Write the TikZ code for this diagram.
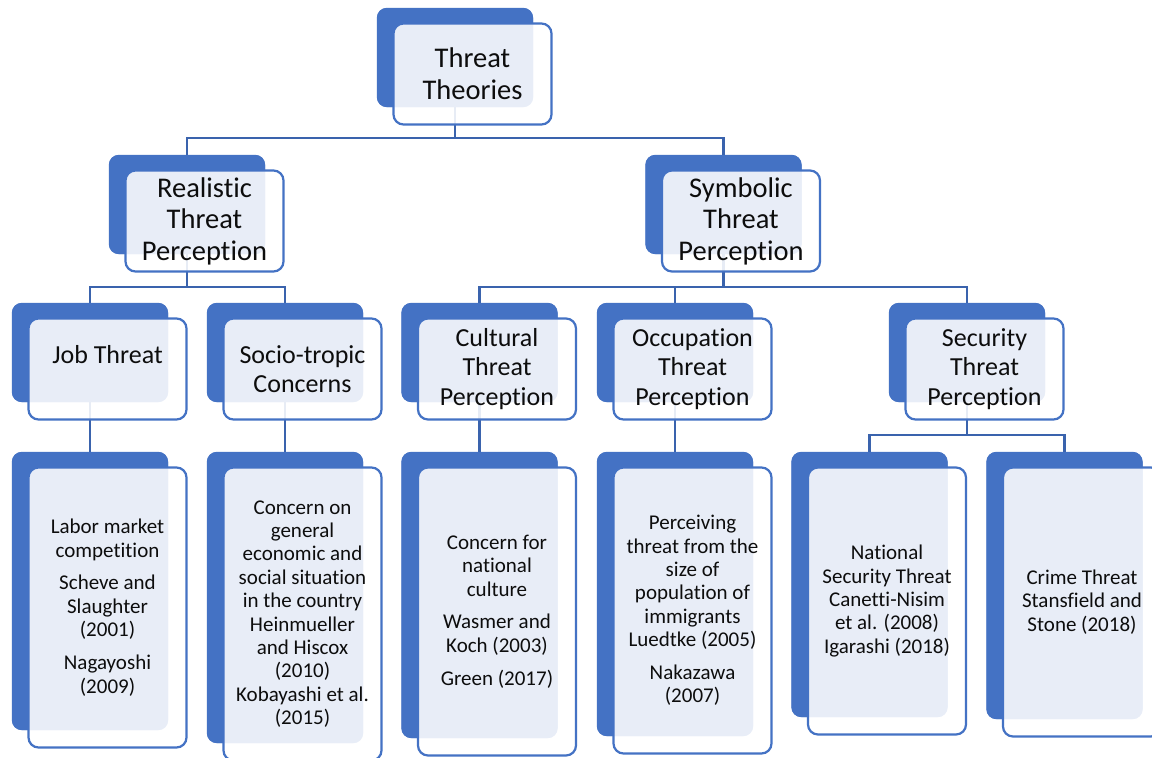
\documentclass[tikz,border=0pt]{standalone}
\usepackage{fontspec}
\setmainfont{Carlito}[Ligatures=NoCommon]
\usetikzlibrary{calc}
\definecolor{accent}{HTML}{4472C4}
\definecolor{connc}{RGB}{58,99,173}
\definecolor{txt}{HTML}{0D0D0D}
\begin{document}
\begin{tikzpicture}[x=1pt,y=-1pt,
  back/.style={rectangle,rounded corners=10pt,fill=accent,draw=none,inner sep=0pt,minimum width=156pt},
  front/.style={rectangle,rounded corners=10pt,draw=accent,line width=2.2pt,fill=white,fill opacity=0.88,text opacity=1,text=txt,inner sep=0pt,minimum width=158pt,align=center},
  big/.style={font=\fontsize{28.5}{31.6}\selectfont},
  mid/.style={font=\fontsize{26}{29.5}\selectfont},
  small/.style={font=\fontsize{21}{23.4}\selectfont},
  conn/.style={draw=connc,line width=2.6pt}]
\useasboundingbox (0,0) rectangle (1152,758);
\clip (0,0) rectangle (1152,758);
\fill[white] (0,0) rectangle (1152,758);

% bus coordinates
\coordinate (bus1) at (0,138);
\coordinate (bus2) at (0,287);
\coordinate (bus3) at (0,435);

% back rectangles (placed first to define names)
\node[back,minimum height=99pt] (topB) at (455,57.5) {};
\node[back,minimum height=99pt] (realB) at (187,204.5) {};
\node[back,minimum height=99pt] (symB) at (723.5,204.5) {};
\node[back,minimum height=99pt] (jobB) at (90,352.5) {};
\node[back,minimum height=99pt] (socB) at (285,352.5) {};
\node[back,minimum height=99pt] (culB) at (479.5,352.5) {};
\node[back,minimum height=99pt] (occB) at (675,352.5) {};
\node[back,minimum height=99pt] (secB) at (967,352.5) {};
\node[back,minimum height=278pt] (jobLB) at (90,591) {};
\node[back,minimum height=291pt] (socLB) at (285,597.5) {};
\node[back,minimum height=286pt] (culLB) at (479.5,595) {};
\node[back,minimum height=284pt] (occLB) at (675,594) {};
\node[back,minimum height=265pt] (natLB) at (869.5,584.5) {};
\node[back,minimum height=267pt] (crmLB) at (1064.5,585.5) {};

% connectors
\draw[conn] (topB.center) -- (topB.center |- bus1);
\draw[conn] (realB.center) |- (symB.center |- bus1) -- (symB.center);
\draw[conn] (realB.center) -- (realB.center |- bus2);
\draw[conn] (jobB.center) |- (socB.center |- bus2) -- (socB.center);
\draw[conn] (symB.center) -- (symB.center |- bus2);
\draw[conn] (culB.center) |- (secB.center |- bus2) -- (secB.center);
\draw[conn] (occB.center |- bus2) -- (occB.center);
\draw[conn] (jobB.center) -- (jobB.center |- jobLB.center);
\draw[conn] (socB.center) -- (socB.center |- socLB.center);
\draw[conn] (culB.center) -- (culB.center |- culLB.center);
\draw[conn] (occB.center) -- (occB.center |- occLB.center);
\draw[conn] (secB.center) -- (secB.center |- bus3);
\draw[conn] (natLB.center) |- (crmLB.center |- bus3) -- (crmLB.center);

% redraw back rectangles over connectors
\foreach \n in {topB,realB,symB,jobB,socB,culB,occB,secB,jobLB,socLB,culLB,occLB,natLB,crmLB}{
  \fill[accent,rounded corners=10pt] (\n.north west) rectangle (\n.south east);
}

% front rectangles with text
\node[front,big,minimum height=101pt] (topF) at ($(topB.center)+(17.5,16.5)$) {Threat\\Theories};
\node[front,big,minimum height=101pt] (realF) at ($(realB.center)+(17.5,16.5)$) {Realistic\\Threat\\Perception};
\node[front,big,minimum height=101pt] (symF) at ($(symB.center)+(17.5,16.5)$) {Symbolic\\Threat\\Perception};
\node[front,mid,minimum height=101pt] (jobF) at ($(jobB.center)+(17.5,16.5)$) {Job Threat\\~};
\node[front,mid,minimum height=101pt] (socF) at ($(socB.center)+(17.5,16.5)$) {Socio-tropic\\Concerns};
\node[front,mid,minimum height=101pt] (culF) at ($(culB.center)+(17.5,16.5)$) {Cultural\\Threat\\Perception};
\node[front,mid,minimum height=101pt] (occF) at ($(occB.center)+(17.5,16.5)$) {Occupation\\Threat\\Perception};
\node[front,mid,minimum height=101pt] (secF) at ($(secB.center)+(17.5,16.5)$) {Security\\Threat\\Perception};

\node[front,small,minimum height=280pt] (jobLF) at ($(jobLB.center)+(17.5,16.5)$) {Labor market\\competition\\[9.5pt]Scheve and\\Slaughter\\(2001)\\[9.5pt]Nagayoshi\\(2009)};
\node[front,small,minimum height=293pt] (socLF) at ($(socLB.center)+(17.5,16.5)$) {Concern on\\general\\economic and\\social situation\\in the country\\Heinmueller\\and Hiscox\\(2010)\\Kobayashi et al.\\(2015)};
\node[front,small,minimum height=288pt] (culLF) at ($(culLB.center)+(17.5,16.5)$) {Concern for\\national\\culture\\[9.5pt]Wasmer and\\Koch (2003)\\[9.5pt]Green (2017)};
\node[front,small,minimum height=286pt] (occLF) at ($(occLB.center)+(17.5,16.5)$) {Perceiving\\threat from the\\size of\\population of\\immigrants\\Luedtke (2005)\\[9.5pt]Nakazawa\\(2007)};
\node[front,small,minimum height=267pt] (natLF) at ($(natLB.center)+(17.5,16.5)$) {National\\Security Threat\\Canetti-Nisim\\et al. (2008)\\Igarashi (2018)};
\node[front,small,minimum height=269pt] (crmLF) at ($(crmLB.center)+(17.5,16.5)$) {Crime Threat\\Stansfield and\\Stone (2018)};
\end{tikzpicture}
\end{document}
